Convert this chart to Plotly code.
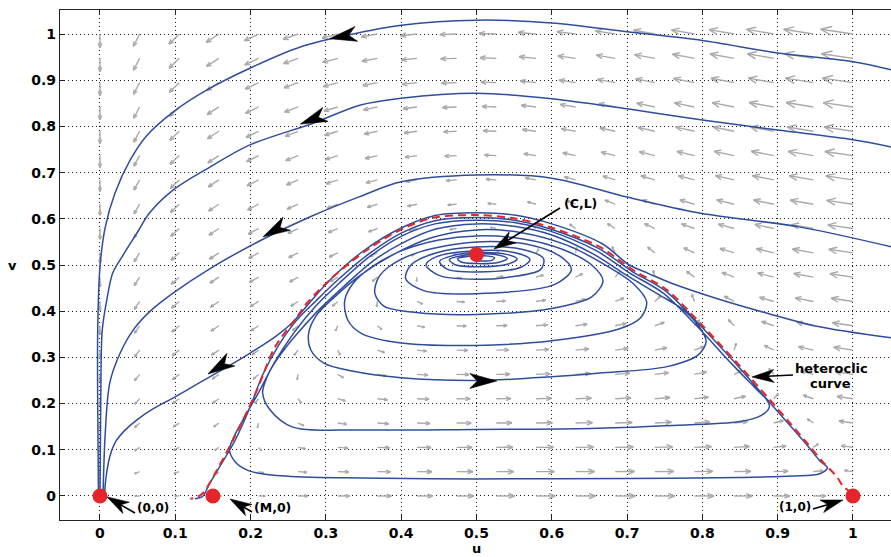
import math
import numpy as np
import plotly.graph_objects as go

# ---------------- data ----------------
# equilibria
EQ_U = [0.0, 0.15, 1.0, 0.5]
EQ_V = [0.0, 0.0, 0.0, 0.523]
M_PAR, C_PAR, L_PAR = 0.15, 0.5, 0.525
DELTA = 0.16                       # predator rate (direction field)
A_PRED = (1 - C_PAR) * (C_PAR - M_PAR) / L_PAR

# direction-field sample grid
GRID_U = np.linspace(0.0, 1.0, 20)
GRID_V = np.linspace(0.0, 1.0, 20)

X_TICKS = [0, 0.1, 0.2, 0.3, 0.4, 0.5, 0.6, 0.7, 0.8, 0.9, 1]
X_TICK_TEXT = ["0", "0.1", "0.2", "0.3", "0.4", "0.5", "0.6", "0.7", "0.8", "0.9", "1"]
Y_TICKS = [0, 0.1, 0.2, 0.3, 0.4, 0.5, 0.6, 0.7, 0.8, 0.9, 1]
Y_TICK_TEXT = ["0", "0.1", "0.2", "0.3", "0.4", "0.5", "0.6", "0.7", "0.8", "0.9", "1"]

# outer trajectories (u, v)
T1 = [(1.052, 0.922), (1.0, 0.94), (0.9, 0.959), (0.8, 0.986), (0.7, 1.005), (0.6, 1.024),
      (0.5, 1.03), (0.4, 1.019), (0.33, 0.998), (0.266, 0.972), (0.199, 0.926), (0.142, 0.879),
      (0.097, 0.831), (0.062, 0.78), (0.04, 0.727), (0.02, 0.656), (0.007, 0.582), (0.0, 0.496),
      (-0.003, 0.36), (-0.003, 0.2), (-0.002, 0.0)]
T2 = [(1.052, 0.755), (1.0, 0.771), (0.9, 0.792), (0.8, 0.814), (0.7, 0.838), (0.6, 0.86),
      (0.5, 0.872), (0.4, 0.861), (0.345, 0.846), (0.283, 0.807), (0.199, 0.76), (0.146, 0.712),
      (0.097, 0.662), (0.066, 0.613), (0.049, 0.569), (0.029, 0.517), (0.017, 0.483),
      (0.009, 0.424), (0.003, 0.359), (0.001, 0.2), (0.0, 0.0)]
T3 = [(1.052, 0.539), (0.93, 0.582), (0.798, 0.612), (0.7, 0.647), (0.6, 0.688), (0.5, 0.695),
      (0.4, 0.68), (0.345, 0.648), (0.28, 0.605), (0.219, 0.558), (0.15, 0.496), (0.097, 0.439),
      (0.066, 0.399), (0.044, 0.359), (0.027, 0.31), (0.013, 0.245), (0.007, 0.136), (0.004, 0.0)]
T4 = [(1.052, 0.342), (0.95, 0.368), (0.885, 0.396), (0.82, 0.427), (0.76, 0.46), (0.728, 0.482),
      (0.703, 0.5), (0.667, 0.546), (0.6, 0.589), (0.55, 0.608), (0.5, 0.613), (0.445, 0.607),
      (0.4, 0.58), (0.352, 0.533), (0.31, 0.475), (0.278, 0.418), (0.256, 0.376), (0.233, 0.345),
      (0.2, 0.31), (0.163, 0.274), (0.13, 0.243), (0.098, 0.213), (0.072, 0.19), (0.05, 0.166),
      (0.033, 0.142), (0.021, 0.118), (0.013, 0.085), (0.008, 0.04), (0.006, 0.004)]

# heteroclinic curve (red dashed)
HETERO = [(0.9987, 0.0065), (0.9867, 0.0216), (0.9788, 0.0411), (0.96, 0.0736), (0.939, 0.1147),
          (0.9163, 0.158), (0.8898, 0.2078), (0.845, 0.29), (0.7968, 0.3745), (0.753, 0.446),
          (0.708, 0.489), (0.664, 0.539), (0.5976, 0.582), (0.55, 0.601), (0.5007, 0.608),
          (0.4422, 0.602), (0.3984, 0.5758), (0.3546, 0.5325), (0.3094, 0.474), (0.2749, 0.4177),
          (0.2616, 0.3874), (0.2325, 0.3225), (0.206, 0.22), (0.1766, 0.1212), (0.1554, 0.0563),
          (0.1368, 0.0065), (0.128, -0.003), (0.12, -0.006)]

# inner spiral (continuous)
SPIRAL = [
    (0.126, -0.006), (0.132, -0.004), (0.137, 0.0), (0.145, 0.025), (0.158, 0.061), (0.179, 0.119),
    (0.199, 0.191), (0.216, 0.262), (0.238, 0.328), (0.26, 0.378), (0.286, 0.421), (0.316, 0.468),
    (0.358, 0.525), (0.4, 0.569), (0.445, 0.596), (0.5, 0.603), (0.55, 0.597), (0.596, 0.579),
    (0.662, 0.536), (0.706, 0.487), (0.751, 0.444), (0.795, 0.373), (0.843, 0.289), (0.887, 0.207),
    (0.914, 0.157), (0.937, 0.114), (0.956, 0.076), (0.966, 0.061), (0.956, 0.048), (0.92, 0.043),
    (0.85, 0.04), (0.7, 0.038), (0.5, 0.037), (0.347, 0.039), (0.27, 0.041), (0.22, 0.047),
    (0.197, 0.055), (0.18, 0.073), (0.172, 0.1),
    # loop 1
    (0.177, 0.125), (0.191, 0.168), (0.211, 0.225), (0.232, 0.29), (0.257, 0.352), (0.286, 0.41),
    (0.318, 0.461), (0.358, 0.518), (0.4, 0.562), (0.445, 0.589), (0.5, 0.597), (0.55, 0.592),
    (0.595, 0.575), (0.659, 0.531), (0.703, 0.483), (0.748, 0.439), (0.792, 0.369), (0.839, 0.286),
    (0.87, 0.234), (0.885, 0.209), (0.889, 0.193), (0.879, 0.175), (0.85, 0.161), (0.75, 0.152),
    (0.651, 0.146), (0.5, 0.144), (0.345, 0.143), (0.256, 0.149), (0.226, 0.186), (0.216, 0.223),
    (0.222, 0.258), (0.232, 0.288),
    # loop 2
    (0.247, 0.322), (0.265, 0.357), (0.292, 0.405), (0.324, 0.454), (0.362, 0.508), (0.402, 0.548),
    (0.446, 0.578), (0.5, 0.589), (0.55, 0.584), (0.6, 0.565), (0.656, 0.523), (0.698, 0.479),
    (0.741, 0.437), (0.774, 0.404), (0.795, 0.368), (0.805, 0.335), (0.795, 0.306), (0.753, 0.28),
    (0.664, 0.266), (0.6, 0.258), (0.5, 0.25), (0.4, 0.256), (0.333, 0.271), (0.298, 0.287),
    (0.28, 0.316), (0.277, 0.351),
    # loop 3
    (0.287, 0.39), (0.311, 0.43), (0.346, 0.478), (0.39, 0.523), (0.44, 0.559), (0.5, 0.576),
    (0.56, 0.57), (0.62, 0.543), (0.668, 0.503), (0.708, 0.46), (0.726, 0.42), (0.718, 0.386),
    (0.69, 0.362), (0.6, 0.336), (0.5, 0.326), (0.4, 0.331), (0.347, 0.352), (0.329, 0.381),
    (0.325, 0.423),
    # loop 4
    (0.336, 0.46), (0.361, 0.496), (0.401, 0.531), (0.45, 0.554), (0.5, 0.563), (0.56, 0.557),
    (0.614, 0.534), (0.653, 0.5), (0.668, 0.466), (0.653, 0.431), (0.6, 0.406), (0.5, 0.393),
    (0.42, 0.397), (0.377, 0.411), (0.365, 0.439), (0.37, 0.473),
    # loop 5
    (0.387, 0.5), (0.426, 0.529), (0.5, 0.55), (0.57, 0.544), (0.611, 0.519), (0.626, 0.49),
    (0.604, 0.458), (0.5, 0.438), (0.431, 0.444), (0.406, 0.47), (0.413, 0.5),
    # loop 6
    (0.446, 0.526), (0.5, 0.539), (0.56, 0.534), (0.589, 0.514), (0.585, 0.49), (0.54, 0.473),
    (0.5, 0.469), (0.451, 0.477), (0.433, 0.5),
    # loop 7
    (0.447, 0.518), (0.5, 0.531), (0.55, 0.527), (0.571, 0.512), (0.559, 0.495), (0.5, 0.485),
    (0.461, 0.491), (0.451, 0.508),
    # loop 8
    (0.47, 0.521), (0.5, 0.527), (0.54, 0.523), (0.554, 0.513), (0.542, 0.502), (0.5, 0.496),
    (0.471, 0.501), (0.464, 0.512),
    # loop 9
    (0.48, 0.52), (0.5, 0.524), (0.53, 0.521), (0.541, 0.514), (0.53, 0.506), (0.5, 0.503),
    (0.479, 0.507), (0.475, 0.514), (0.49, 0.519), (0.51, 0.52), (0.524, 0.516), (0.52, 0.51),
    (0.5, 0.509),
]

# direction arrowheads on the trajectories: tip (u, v) and heading (deg, screen)
TRAJ_ARROW_U = [0.305, 0.266, 0.2165, 0.1434, 0.527]
TRAJ_ARROW_V = [0.99, 0.805, 0.561, 0.264, 0.249]
TRAJ_ARROW_DEG = [190, 201, 209, 212, 0]

# label arrows: tail (near text) -> tip
LBL_TAIL_U = [0.0465, 0.2019, 0.9469, 0.6109, 0.9203]
LBL_TAIL_V = [-0.0368, -0.0346, -0.0281, 0.6234, 0.2619]
LBL_TIP_U = [0.0093, 0.1726, 0.9867, 0.5232, 0.8659]
LBL_TIP_V = [-0.002, -0.0065, -0.0087, 0.5346, 0.2576]

LABEL_TEXT = ["(0,0)", "(M,0)", "(1,0)", "(C,L)", "heteroclic", "curve"]
LABEL_U = [0.0465, 0.2019, 0.947, 0.613, 0.920, 0.940]
LABEL_V = [-0.026, -0.026, -0.024, 0.634, 0.277, 0.244]
LABEL_ANCHOR = ["left", "left", "right", "left", "left", "left"]
LABEL_SIZE = [12, 12.5, 12, 12.5, 13, 13]

# ---------------- styling / geometry ----------------
W, H = 891, 557
ML, MR, MT, MB = 60, 0, 10, 37
XR = [-0.0531, 1.0505]
YR = [-0.052, 1.052]
PX_U = (W - ML - MR) / (XR[1] - XR[0])
PX_V = (H - MT - MB) / (YR[1] - YR[0])

BLUE = "#2f4d9c"
RED = "#e4262b"
GRAY = "#a9a9a9"
FONT = "DejaVu Sans"


def field(u, v):
    du = u * ((1 - u) * (u - M_PAR) - A_PRED * v)
    dv = DELTA * v * (u - C_PAR)
    return du, dv


def head_poly(tu, tv, ang_deg, length, width, notch=0.72):
    a = math.radians(ang_deg)
    ca, sa = math.cos(a), math.sin(a)
    pts = [(0, 0), (-length, width / 2), (-notch * length, 0), (-length, -width / 2), (0, 0)]
    xs, ys = [], []
    for lx, ly in pts:
        px = lx * ca - ly * sa
        py = lx * sa + ly * ca
        xs.append(tu + px / PX_U)
        ys.append(tv + py / PX_V)
    return xs, ys


fig = go.Figure()

# ---- direction field ----
qx, qy = [], []
for u in GRID_U:
    for v in GRID_V:
        du, dv = field(u, v)
        px, py = du * PX_U, dv * PX_V
        mag = math.hypot(px, py)
        if mag < 1e-6:
            continue
        ln = min(2.7 * mag ** 0.45, 33.0)
        ex, ey = px / mag, py / mag
        tu = u + ln * ex / PX_U
        tv = v + ln * ey / PX_V
        qx += [u, tu, None]
        qy += [v, tv, None]
        hl = 0.36 * ln
        for s in (1, -1):
            a = math.radians(22) * s
            bx = -ex * math.cos(a) + ey * math.sin(a)
            by = -ex * math.sin(a) - ey * math.cos(a)
            qx += [tu, tu + hl * bx / PX_U, None]
            qy += [tv, tv + hl * by / PX_V, None]
fig.add_trace(go.Scatter(x=qx, y=qy, mode="lines", line=dict(color=GRAY, width=1.4),
                         hoverinfo="skip"))

# ---- trajectories ----
for traj in (T1, T2, T3, T4, SPIRAL):
    fig.add_trace(go.Scatter(x=[p[0] for p in traj], y=[p[1] for p in traj], mode="lines",
                             line=dict(color=BLUE, width=1.5, shape="spline", smoothing=0.9),
                             hoverinfo="skip"))

# heteroclinic curve
fig.add_trace(go.Scatter(x=[p[0] for p in HETERO], y=[p[1] for p in HETERO], mode="lines",
                         line=dict(color=RED, width=2, dash="8px,5px", shape="spline",
                                   smoothing=0.9),
                         hoverinfo="skip"))

# ---- arrowheads on trajectories ----
hx, hy = [], []
for tu, tv, ang in zip(TRAJ_ARROW_U, TRAJ_ARROW_V, TRAJ_ARROW_DEG):
    xs, ys = head_poly(tu, tv, ang, 27, 15)
    hx += xs + [None]
    hy += ys + [None]

# ---- label arrows ----
sx, sy = [], []
for au, av, bu, bv in zip(LBL_TAIL_U, LBL_TAIL_V, LBL_TIP_U, LBL_TIP_V):
    dxp = (bu - au) * PX_U
    dyp = (bv - av) * PX_V
    ang = math.degrees(math.atan2(dyp, dxp))
    ln = math.hypot(dxp, dyp)
    hl = min(22.0, ln * 0.85)
    xs, ys = head_poly(bu, bv, ang, hl, 13)
    hx += xs + [None]
    hy += ys + [None]
    sx += [au, bu - 0.7 * hl * (dxp / ln) / PX_U, None]
    sy += [av, bv - 0.7 * hl * (dyp / ln) / PX_V, None]
fig.add_trace(go.Scatter(x=sx, y=sy, mode="lines", line=dict(color="black", width=1.6),
                         hoverinfo="skip"))
fig.add_trace(go.Scatter(x=hx, y=hy, mode="lines", fill="toself", fillcolor="black",
                         line=dict(color="black", width=0.6), hoverinfo="skip"))

# ---- equilibria ----
fig.add_trace(go.Scatter(x=EQ_U, y=EQ_V, mode="markers",
                         marker=dict(color=RED, size=15, line=dict(width=0)), hoverinfo="skip"))

# ---- text labels ----
for t, u, v, anc, fs in zip(LABEL_TEXT, LABEL_U, LABEL_V, LABEL_ANCHOR, LABEL_SIZE):
    fig.add_annotation(x=u, y=v, text="<b>%s</b>" % t, showarrow=False, xanchor=anc,
                       yanchor="middle", font=dict(family=FONT, size=fs, color="black"))

fig.add_annotation(xref="paper", yref="paper", x=(476 - ML) / (W - ML - MR),
                   y=(H - MB - 548) / (H - MT - MB), text="<b>u</b>", showarrow=False,
                   xanchor="center", yanchor="middle", font=dict(family=FONT, size=13, color="black"))
fig.add_annotation(xref="paper", yref="paper", x=(12 - ML) / (W - ML - MR), y=0.5,
                   text="<b>v</b>", showarrow=False, xanchor="center", yanchor="middle",
                   font=dict(family=FONT, size=13, color="black"))

axis_common = dict(showgrid=True, gridcolor="#1a1a1a", griddash="1px,3px", gridwidth=1,
                   zeroline=False, showline=True, linecolor="#222222", linewidth=1.2,
                   ticks="inside", ticklen=5, tickcolor="#222222",
                   tickfont=dict(family=FONT, size=14, color="black", weight="bold"))
fig.update_xaxes(range=XR, tickvals=X_TICKS, ticktext=X_TICK_TEXT, mirror="ticks", **axis_common)
fig.update_yaxes(range=YR, tickvals=Y_TICKS, ticktext=Y_TICK_TEXT, mirror=False, **axis_common)

fig.update_layout(width=W, height=H, margin=dict(l=ML, r=MR, t=MT, b=MB),
                  plot_bgcolor="white", paper_bgcolor="white", showlegend=False,
                  hovermode=False)

fig.write_html("out.html")
